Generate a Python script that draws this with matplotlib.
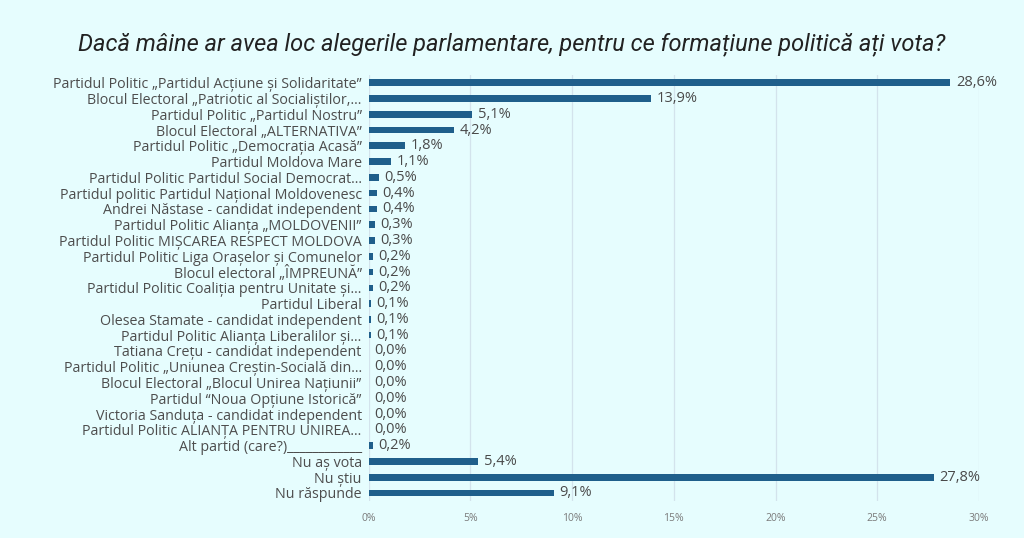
import matplotlib.pyplot as plt

categories = [
    "Partidul Politic „Partidul Acțiune și Solidaritate”",
    "Blocul Electoral „Patriotic al Socialiștilor,...",
    "Partidul Politic „Partidul Nostru”",
    "Blocul Electoral „ALTERNATIVA”",
    "Partidul Politic „Democrația Acasă”",
    "Partidul Moldova Mare",
    "Partidul Politic Partidul Social Democrat...",
    "Partidul politic Partidul Național Moldovenesc",
    "Andrei Năstase - candidat independent",
    "Partidul Politic Alianța „MOLDOVENII”",
    "Partidul Politic MIȘCAREA RESPECT MOLDOVA",
    "Partidul Politic Liga Orașelor și Comunelor",
    "Blocul electoral „ÎMPREUNĂ”",
    "Partidul Politic Coaliția pentru Unitate și...",
    "Partidul Liberal",
    "Olesea Stamate - candidat independent",
    "Partidul Politic Alianța Liberalilor și...",
    "Tatiana Crețu - candidat independent",
    "Partidul Politic „Uniunea Creștin-Socială din...",
    "Blocul Electoral „Blocul Unirea Națiunii”",
    "Partidul “Noua Opțiune Istorică”",
    "Victoria Sanduța - candidat independent",
    "Partidul Politic ALIANȚA PENTRU UNIREA...",
    "Alt partid (care?)____________",
    "Nu aș vota",
    "Nu știu",
    "Nu răspunde",
]
values = [28.6, 13.9, 5.1, 4.2, 1.8, 1.1, 0.5, 0.4, 0.4, 0.3, 0.3, 0.2, 0.2,
          0.2, 0.1, 0.1, 0.1, 0.0, 0.0, 0.0, 0.0, 0.0, 0.0, 0.2, 5.4, 27.8, 9.1]
xticks = [0, 5, 10, 15, 20, 25, 30]

bg = "#e6fdfe"
bar_color = "#1f5f8b"

plt.rcParams["font.family"] = ["Open Sans", "DejaVu Sans"]

fig = plt.figure(figsize=(10.24, 5.38), dpi=100, facecolor=bg)
ax = fig.add_axes([0.360, 0.069, 0.596, 0.792], facecolor=bg)

y = list(range(len(categories)))
ax.barh(y, values, height=0.42, color=bar_color, zorder=3)
for yi, v in zip(y, values):
    ax.annotate(f"{v:.1f}%".replace(".", ","), (v, yi), xytext=(4, 0),
                textcoords="offset points", va="center", ha="left",
                fontsize=10.5, color="#4a4a4a")

ax.set_xlim(0, 30)
ax.set_ylim(len(categories) - 0.5, -0.5)
ax.set_yticks(y)
ax.set_yticklabels(categories, fontsize=10.3, color="#4d4d4d")
ax.set_xticks(xticks)
ax.set_xticklabels([f"{t}%" for t in xticks], fontsize=7.5, color="#7a7a7a")
ax.tick_params(axis="y", length=0, pad=5)
ax.tick_params(axis="x", length=0, pad=9)
ax.grid(axis="x", color="#d3e3ec", linewidth=0.9, zorder=0)
for s in ax.spines.values():
    s.set_visible(False)

fig.text(0.5, 0.918, "Dacă mâine ar avea loc alegerile parlamentare, pentru ce formațiune politică ați vota?",
         ha="center", va="center", fontsize=17, style="italic", color="#222222",
         family=["Roboto", "DejaVu Sans"])

fig.savefig("out.png", dpi=100, facecolor=bg)
